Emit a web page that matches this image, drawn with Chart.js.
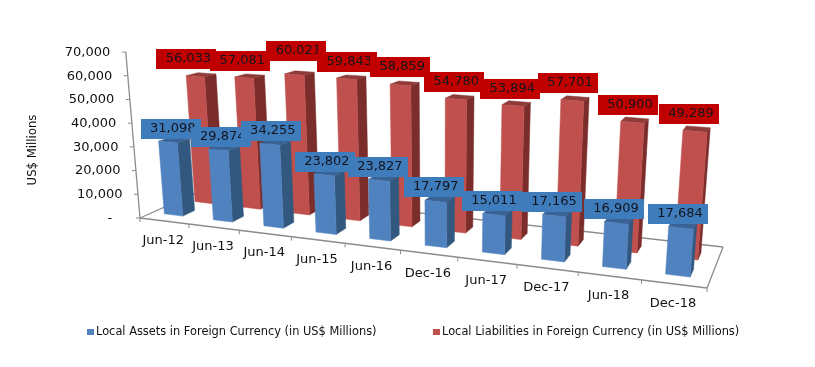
<!DOCTYPE html>
<html><head><meta charset="utf-8">
<style>html,body{margin:0;padding:0;background:#fff}canvas{display:block}</style>
<script src="https://cdn.jsdelivr.net/npm/chart.js@4"></script>
</head><body><canvas id="c" width="815" height="367"></canvas>
<script>
const categories = ['Jun-12','Jun-13','Jun-14','Jun-15','Jun-16','Dec-16','Jun-17','Dec-17','Jun-18','Dec-18'];
const localAssets = [31098,29874,34255,23802,23827,17797,15011,17165,16909,17684];
const localLiabilities = [56033,57081,60021,59843,58859,54780,53894,57701,50900,49289];
const seriesNames = ['Local Assets in Foreign Currency (in US$ Millions)','Local Liabilities in Foreign Currency (in US$ Millions)'];
const yAxisTitle = 'US$ Millions';
const yMax = 70000, yStep = 10000;

const FONT = '"DejaVu Sans", Verdana, sans-serif';
// Camera: projects the plot (u across categories, v into depth, t up the value axis) onto the page.
const cam = {x0:140,y0:218,ax:461,ay:26.8,bx:85.9,by:-10.15,g:-0.15,h:0.1,H:166,vx:440,vy:3500};
function project(u,v,t,shift){
  const d = 1+cam.g*u+cam.h*v;
  const fx = (cam.x0+cam.ax*u+cam.bx*v)/d-(shift||0)*(1-u), fy = (cam.y0+cam.ay*u+cam.by*v)/d;
  const up = t*cam.H/d;
  return {x: fx+up*(fx-cam.vx)/cam.vy, y: fy-up};
}
const looks = [
  {front:'#5082C0',side:'#33587F',top:'#3A6496',box:'#3E7CBB',v0:0.19,v1:0.37,shift:4,legendX:87,
   labelDx:[2.8,2.3,1.1,0.7,-1.2,-2,-2.1,-2.3,-2.5,-3],labelGap:[3,2.8,3.2,3,3.4,4.4,3.8,3.6,3.9,3.8]},
  {front:'#C0504D',side:'#7B2D2B',top:'#8F3B39',box:'#C00000',v0:0.60,v1:0.78,shift:0,legendX:433,
   labelDx:[-9,-3.9,1.9,0.6,-0.2,-1.7,-2.8,-4.2,-4.4,-6],labelGap:[7.3,6.6,13.6,6.7,8.1,7,6.5,7.5,7.3,7.3]}
];
function poly(ctx,pts,fill){
  ctx.beginPath();pts.forEach((p,i)=>i?ctx.lineTo(p.x,p.y):ctx.moveTo(p.x,p.y));ctx.closePath();
  ctx.fillStyle=fill;ctx.fill();ctx.strokeStyle=fill;ctx.lineWidth=0.5;ctx.stroke();
}
function line(ctx,a,b){ctx.beginPath();ctx.moveTo(a.x,a.y);ctx.lineTo(b.x,b.y);ctx.stroke();}
const perspective3d = {
  id:'perspective3d',
  beforeDatasetsDraw(chart){
    const {ctx,chartArea:ca,scales:{x,y}}=chart;
    const U=px=>(px-ca.left)/ca.width, T=py=>(ca.bottom-py)/ca.height;
    ctx.save();
    // floor and axes
    ctx.strokeStyle='#8C8C8C';ctx.lineWidth=1.3;
    line(ctx,project(0,0,0),project(1,0,0));
    line(ctx,project(1,0,0),project(1,1,0));
    line(ctx,project(1,1,0),project(0,1,0));
    line(ctx,project(0,1,0),project(0,0,0));
    line(ctx,project(0,0,0),project(0,0,1));
    ctx.font='13px '+FONT;ctx.fillStyle='#111';
    // value axis ticks
    ctx.textAlign='right';ctx.textBaseline='middle';
    y.ticks.forEach((tk,i)=>{
      const p=project(0,0,T(y.getPixelForTick(i)));
      ctx.strokeStyle='#8C8C8C';ctx.lineWidth=1;
      line(ctx,p,{x:p.x-4,y:p.y});
      ctx.fillText(tk.label,p.x-15.5,p.y+0.5);
    });
    // category ticks and labels
    ctx.textAlign='center';
    for(let i=0;i<=categories.length;i++){
      const p=project(i/categories.length,0,0);
      line(ctx,p,{x:p.x,y:p.y+4});
    }
    x.ticks.forEach((tk,i)=>{
      const p=project(U(x.getPixelForTick(i)),0,0);
      ctx.fillText(tk.label,p.x-1,p.y+19.5);
    });
    // axis title
    ctx.save();ctx.translate(33,150);ctx.rotate(-Math.PI/2);ctx.font='11.7px '+FONT;ctx.fillText(yAxisTitle,0,0);ctx.restore();
    // bars, far series first
    [1,0].forEach(ds=>{
      const L=looks[ds],meta=chart.getDatasetMeta(ds),P=(u,v,t)=>project(u,v,t,L.shift);
      meta.data.forEach(el=>{
        const u0=U(el.x-el.width/2),u1=U(el.x+el.width/2),t=T(el.y);
        const a=P(u0,L.v0,t),b=P(u1,L.v0,t),c=P(u1,L.v1,t),d=P(u0,L.v1,t);
        const e=P(u0,L.v0,0),f=P(u1,L.v0,0),h=P(u1,L.v1,0);
        poly(ctx,[b,c,h,f],L.side);
        poly(ctx,[a,b,c,d],L.top);
        poly(ctx,[a,b,f,e],L.front);
      });
    });
    // data labels, later boxes cover earlier ones
    ctx.font='13px '+FONT;ctx.textAlign='center';ctx.textBaseline='middle';
    [1,0].forEach(ds=>{
      const L=looks[ds],meta=chart.getDatasetMeta(ds),vals=chart.data.datasets[ds].data;
      meta.data.forEach((el,i)=>{
        const p=project(U(el.x),L.v0,T(el.y),L.shift);
        const cx=p.x+L.labelDx[i], bot=p.y-L.labelGap[i];
        ctx.fillStyle=L.box;ctx.fillRect(Math.round(cx-30),Math.round(bot-20),60,20);
        ctx.fillStyle='#14141e';ctx.fillText(vals[i].toLocaleString('en-US'),cx+2,bot-10);
      });
    });
    // legend
    ctx.font='11.4px '+FONT;ctx.textAlign='left';ctx.textBaseline='middle';
    chart.data.datasets.forEach((ds,i)=>{
      const L=looks[i];
      ctx.fillStyle=ds.backgroundColor;ctx.fillRect(L.legendX,329,7,6);
      ctx.fillStyle='#111';ctx.fillText(ds.label,L.legendX+9,332);
    });
    ctx.restore();
    return false;
  }
};
new Chart(document.getElementById('c'),{
  type:'bar',
  data:{labels:categories,datasets:[
    {label:seriesNames[0],data:localAssets,backgroundColor:looks[0].front,grouped:false,barPercentage:0.38,categoryPercentage:1},
    {label:seriesNames[1],data:localLiabilities,backgroundColor:looks[1].front,grouped:false,barPercentage:0.38,categoryPercentage:1}
  ]},
  options:{
    responsive:false,animation:false,
    layout:{padding:{left:6,right:0,top:0,bottom:24}},
    plugins:{tooltip:{enabled:false},legend:{display:false}},
    scales:{
      x:{display:false},
      y:{display:false,min:0,max:yMax,ticks:{stepSize:yStep,callback:v=>v===0?'-   ':v.toLocaleString('en-US')}}
    }
  },
  plugins:[perspective3d]
});
</script></body></html>
